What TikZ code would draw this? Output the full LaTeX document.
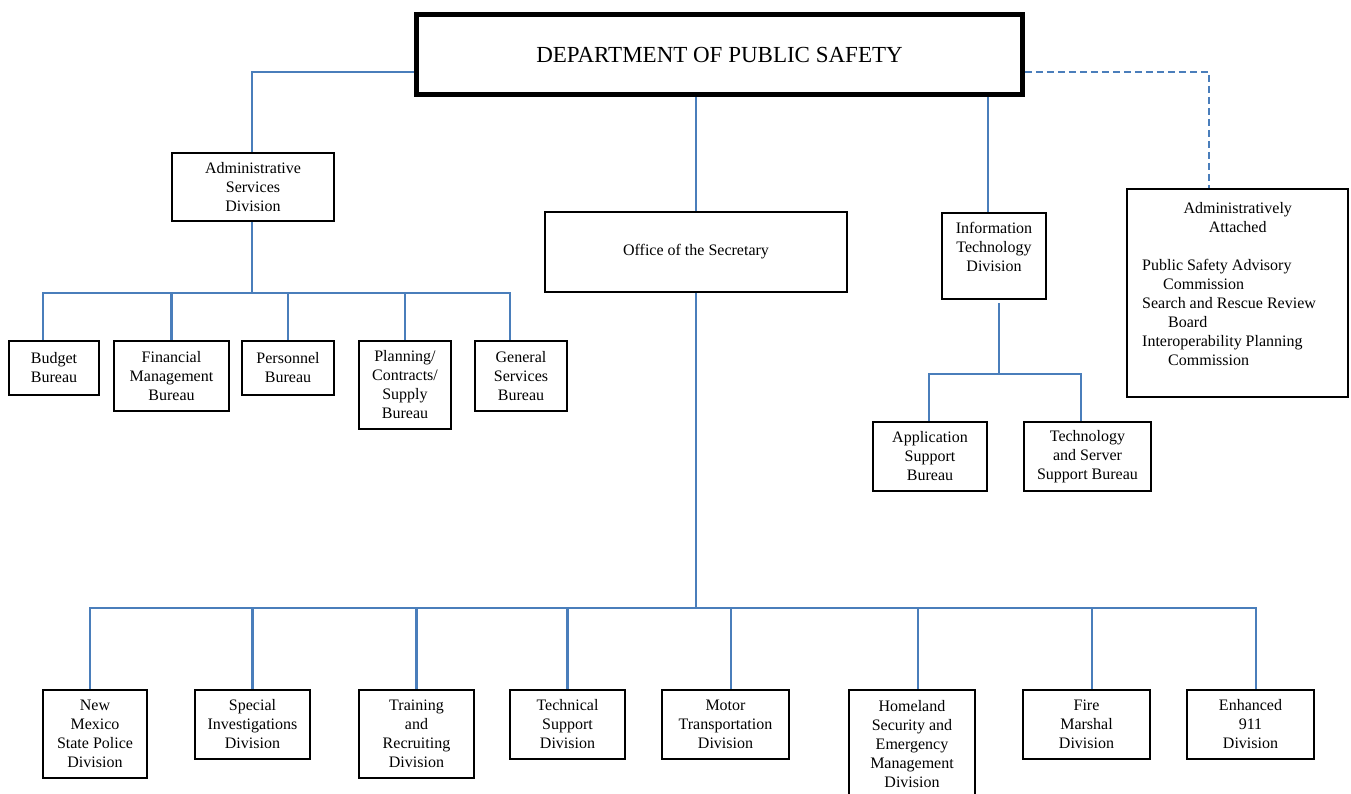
\documentclass[tikz,border=0pt]{standalone}
\usepackage{fontspec}
\setmainfont{Liberation Serif}
\newcommand\bxfont{\fontsize{16}{19}\selectfont}
\definecolor{lnblue}{RGB}{74,126,187}
\begin{document}
\begin{tikzpicture}[x=1pt,y=-1pt,
  bx/.style={draw=black,line width=2pt,inner sep=0pt,align=center,font=\bxfont},
  cn/.style={draw=lnblue,line width=2.4pt},
  cnd/.style={cn,dash pattern=on 7pt off 4pt}]
\useasboundingbox (0,0) rectangle (1351,793);
\clip (0,0) rectangle (1351,793);
% top
\node[bx,line width=4.5pt,minimum width=606pt,minimum height=80pt,font=\fontsize{23}{27}\selectfont] (top) at (719.5,54.5) {DEPARTMENT OF PUBLIC SAFETY};
% second level
\node[bx,minimum width=162pt,minimum height=68pt] (adm) at (253,187) {Administrative\\Services\\Division};
\node[bx,minimum width=302pt,minimum height=80pt] (off) at (696,252) {Office of the Secretary};
\node[bx,minimum width=104pt,minimum height=86pt] (it) at (994,256) {Information\\Technology\\Division\\\mbox{}};
\node[bx,minimum width=221pt,minimum height=208pt] (att) at (1237.5,293) {};
\node[inner sep=0pt,align=left,font=\bxfont,anchor=north west] (attxt) at (1142,202)
 {\makebox[191pt]{Administratively}\\\makebox[191pt]{Attached}\\[19pt]
  Public Safety Advisory\\\hspace*{21pt}Commission\\
  Search and Rescue Review\\\hspace*{26pt}Board\\
  Interoperability Planning\\\hspace*{26pt}Commission};
% bureaus
\node[bx,minimum width=90pt,minimum height=54pt] (bud) at (54,368) {Budget\\Bureau};
\node[bx,minimum width=115pt,minimum height=70pt] (fin) at (171.5,376) {Financial\\Management\\Bureau};
\node[bx,minimum width=92pt,minimum height=54pt] (per) at (288,368) {Personnel\\Bureau};
\node[bx,minimum width=92pt,minimum height=88pt] (pla) at (405,385) {Planning/\\Contracts/\\Supply\\Bureau};
\node[bx,minimum width=92pt,minimum height=70pt] (gen) at (521,376) {General\\Services\\Bureau};
% IT bureaus
\node[bx,minimum width=114pt,minimum height=69pt] (app) at (930,456.5) {Application\\Support\\Bureau};
\node[bx,minimum width=127pt,minimum height=69pt] (tsb) at (1087.5,456.5) {Technology\\and Server\\Support Bureau};
% divisions
\node[bx,minimum width=104pt,minimum height=88pt] (nm) at (95,734) {New\\Mexico\\State Police\\Division};
\node[bx,minimum width=115pt,minimum height=69pt] (spe) at (252.5,724.5) {Special\\Investigations\\Division};
\node[bx,minimum width=115pt,minimum height=88pt] (tra) at (416.5,734) {Training\\and\\Recruiting\\Division};
\node[bx,minimum width=115pt,minimum height=69pt] (tec) at (567.5,724.5) {Technical\\Support\\Division};
\node[bx,minimum width=127pt,minimum height=69pt] (mot) at (725.5,724.5) {Motor\\Transportation\\Division};
\node[bx,minimum width=126pt,minimum height=108pt] (hom) at (912,744) {Homeland\\Security and\\Emergency\\Management\\Division};
\node[bx,minimum width=127pt,minimum height=69pt] (fir) at (1086.5,724.5) {Fire\\Marshal\\Division};
\node[bx,minimum width=127pt,minimum height=69pt] (enh) at (1250.5,724.5) {Enhanced\\911\\Division};
% connectors from top
\draw[cn] ([yshift=-17.5pt]top.west) -| ([xshift=-1pt]adm.north);
\draw[cnd] ([yshift=-17.5pt]top.east) -| ([xshift=-28.5pt]att.north);
\draw[cn] (top.south -| off.north) -- (off.north);
\coordinate (itin) at ([xshift=-6pt]it.north);
\draw[cn] (top.south -| itin) -- (itin);
% admin tree
\coordinate (abus) at (252,293);
\draw[cn] ([xshift=-1pt]adm.south) -- (abus);
\draw[cn] (abus) -| ([xshift=-11pt]bud.north);
\draw[cn] (abus) -| (fin.north);
\draw[cn] (abus) -| (per.north);
\draw[cn] (abus) -| (pla.north);
\draw[cn] (abus) -| ([xshift=-11pt]gen.north);
% IT tree
\coordinate (ibus) at (999,374);
\draw[cn] ([xshift=5pt,yshift=-3pt]it.south) -- (ibus);
\draw[cn] (ibus) -| ([xshift=-1pt]app.north);
\draw[cn] (ibus) -| ([xshift=-6.5pt]tsb.north);
% divisions tree
\coordinate (bbus) at (696,608);
\draw[cn] (off.south) -- (bbus);
\draw[cn] (bbus) -| ([xshift=-5pt]nm.north);
\draw[cn] (bbus) -| (spe.north);
\draw[cn] (bbus) -| (tra.north);
\draw[cn] (bbus) -| (tec.north);
\draw[cn] (bbus) -| ([xshift=5.5pt]mot.north);
\draw[cn] (bbus) -| ([xshift=6pt]hom.north);
\draw[cn] (bbus) -| ([xshift=5.5pt]fir.north);
\draw[cn] (bbus) -| ([xshift=5.5pt]enh.north);
\end{tikzpicture}
\end{document}
